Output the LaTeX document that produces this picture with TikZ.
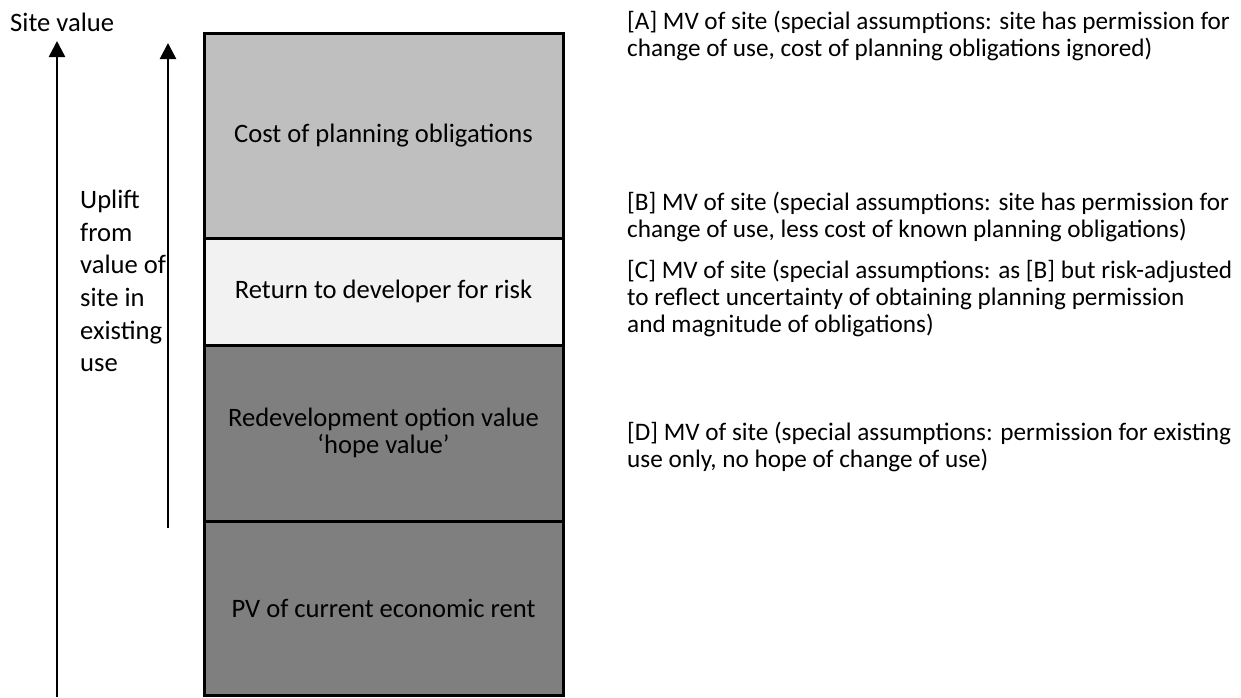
\documentclass[tikz,border=0pt]{standalone}
\usepackage{fontspec}
\setmainfont{Carlito}
\usetikzlibrary{arrows.meta}
\definecolor{costgray}{HTML}{BFBFBF}
\definecolor{riskgray}{HTML}{F2F2F2}
\definecolor{darkgray}{HTML}{7F7F7F}
\begin{document}
\begin{tikzpicture}[x=1pt,y=-1pt,
  seg/.style={draw=black, line width=3pt, minimum width=359pt, inner sep=0pt, align=center, font=\fontsize{26.6}{27}\selectfont},
  arr/.style={line width=2.5pt, -{Triangle[length=16pt,width=16pt]}},
  note/.style={anchor=west, align=left, inner sep=0pt, font=\fontsize{25.2}{27}\selectfont},
  leftnote/.style={anchor=west, align=left, inner sep=0pt, font=\fontsize{26.6}{32.6}\selectfont}]
\useasboundingbox (0,0) rectangle (1241,697);
\fill[white] (0,0) rectangle (1241,697);
% axes arrows
\coordinate (a1s) at (57,697);
\coordinate (a1e) at (57,41);
\coordinate (a2s) at (168,528);
\coordinate (a2e) at (168,43);
\draw[arr] (a1s) -- (a1e);
\draw[arr] (a2s) -- (a2e);
% boxes
\node[seg, fill=costgray, minimum height=205pt] (cost) at (383.5,135.5) {Cost of planning obligations};
\node[seg, fill=riskgray, minimum height=107pt] (risk) at (383.5,291.5) {Return to developer for risk};
\node[seg, fill=darkgray, minimum height=176pt] (hope) at (383.5,433) {Redevelopment option value\\\textquoteleft hope value\textquoteright};
\node[seg, fill=darkgray, minimum height=174pt] (pv) at (383.5,608) {PV of current economic rent};
% labels
\node[leftnote] (sv) at (10,22) {Site value};
\node[leftnote] (uplift) at (80,281) {Uplift\\from\\value of\\site in\\existing\\use};
\node[note] (A) at (627,35.5) {[A] MV of site (special assumptions: site has permission for\\change of use, cost of planning obligations ignored)};
\node[note] (B) at (627,216.5) {[B] MV of site (special assumptions: site has permission for\\change of use, less cost of known planning obligations)};
\node[note] (C) at (627,298) {[C] MV of site (special assumptions: as [B] but risk-adjusted\\to reflect uncertainty of obtaining planning permission\\and magnitude of obligations)};
\node[note] (D) at (627,446.5) {[D] MV of site (special assumptions: permission for existing\\use only, no hope of change of use)};
\end{tikzpicture}
\end{document}
